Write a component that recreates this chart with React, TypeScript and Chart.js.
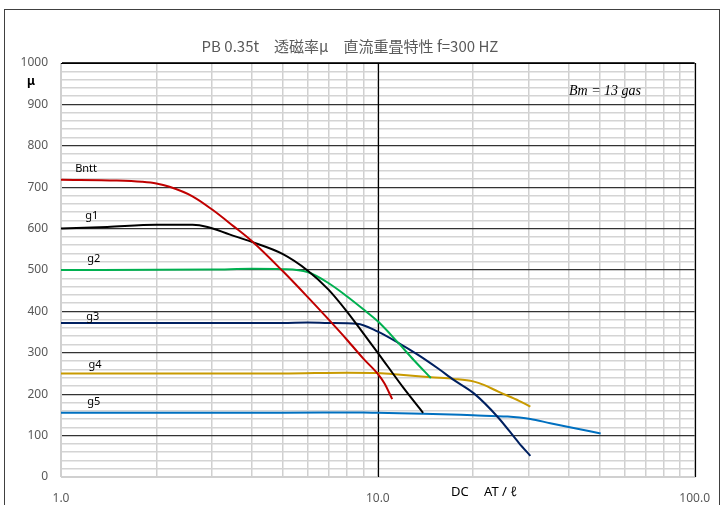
import React, { useEffect, useRef } from "react";
import { Chart, registerables } from "chart.js";

Chart.register(...registerables);

const W = 724;
const H = 505;

const titleText = "PB 0.35t\u3000透磁率μ\u3000直流重畳特性 f=300 HZ";
const xAxisTitleA = "DC";
const xAxisTitleB = "AT / ℓ";
const yAxisTitle = "μ";
const noteText = "Bm = 13 gas";

const xTickValues = [1, 2, 3, 4, 5, 6, 7, 8, 9, 10, 20, 30, 40, 50, 60, 70, 80, 90, 100];
const xLabeled = [1, 10, 100];
const xDarkLines = [10, 100];

const bnttX = [1, 1.5, 1.8, 2, 2.2, 2.6, 3, 3.5, 4, 5, 6, 7, 8, 9, 10, 10.5, 11.1];
const bnttY = [718, 716, 713, 709, 701, 678, 646, 606, 570, 498, 435, 380, 331, 286, 249, 226, 188];

const g1X = [1, 1.4, 2, 2.6, 2.9, 3.4, 4, 5, 6, 7, 8, 9, 10, 12, 13.9];
const g1Y = [600, 604, 609, 609, 604, 586, 568, 539, 499, 452, 399, 347, 300, 217, 155];

const g2X = [1, 3, 4, 5, 6, 7, 8, 9, 10, 11.6, 13, 14.7];
const g2Y = [500, 501, 503, 502, 495, 468, 436, 405, 376, 324, 282, 239];

const g3X = [1, 3, 5, 6, 7, 8.6, 10, 11.6, 13.4, 15.5, 17.4, 20.1, 23.9, 27.9, 30.3];
const g3Y = [372, 372, 372, 373, 372, 370, 351, 324, 295, 262, 234, 202, 145, 82, 51];

const g4X = [1, 5, 8, 10, 11.8, 14.7, 17.4, 20, 21.7, 24, 27.9, 30.3];
const g4Y = [250, 250, 252, 251, 247, 241, 237, 231, 222, 206, 184, 170];

const g5X = [1, 5, 9, 10, 13.9, 20, 25.7, 28, 30.3, 35, 40, 50.5];
const g5Y = [155, 155, 156, 155, 153, 149, 146, 143.5, 140, 130, 121, 105];

const seriesNames = ["Bntt", "g1", "g2", "g3", "g4", "g5"];
const seriesColors = ["#C00000", "#000000", "#00B050", "#002060", "#C89A00", "#0070C0"];
const seriesX = [bnttX, g1X, g2X, g3X, g4X, g5X];
const seriesY = [bnttY, g1Y, g2Y, g3Y, g4Y, g5Y];
// label anchor values (data units)
const labelX = [1.2, 1.25, 1.27, 1.26, 1.28, 1.27];
const labelY = [745, 630, 526, 388, 270, 182];

export default function App() {
  const ref = useRef<HTMLCanvasElement>(null);
  useEffect(() => {
    if (!ref.current) return;
    const linesPlugin = {
      id: "darkLines",
      beforeDatasetsDraw(chart: any) {
        const ctx = chart.ctx;
        const xs = chart.scales.x;
        const ca = chart.chartArea;
        ctx.save();
        ctx.strokeStyle = "#000";
        ctx.lineWidth = 1.2;
        for (const v of xDarkLines) {
          const px = Math.round(xs.getPixelForValue(v)) + 0.5;
          ctx.beginPath();
          ctx.moveTo(px, ca.top);
          ctx.lineTo(px, ca.bottom);
          ctx.stroke();
        }
        ctx.beginPath();
        ctx.moveTo(ca.left, Math.round(ca.top) + 0.5);
        ctx.lineTo(ca.right, Math.round(ca.top) + 0.5);
        ctx.stroke();
        ctx.restore();
      },
    };
    const textPlugin = {
      id: "texts",
      afterDraw(chart: any) {
        const ctx = chart.ctx;
        const xs = chart.scales.x;
        const ys = chart.scales.y;
        ctx.save();
        ctx.strokeStyle = "#404040";
        ctx.lineWidth = 1;
        ctx.strokeRect(4.5, 9.5, 715, 600);
        ctx.fillStyle = "#595959";
        ctx.font = "15px 'Noto Sans CJK JP', 'Noto Sans'";
        ctx.textAlign = "center";
        ctx.textBaseline = "middle";
        ctx.fillText(titleText, 350, 46);
        ctx.fillStyle = "#000";
        ctx.font = "bold 12px 'Noto Sans'";
        ctx.fillText(yAxisTitle, 31, 82);
        ctx.font = "13px 'Noto Sans'";
        ctx.textAlign = "left";
        ctx.fillText(xAxisTitleA, 451, 492);
        ctx.fillText(xAxisTitleB, 484, 492);
        ctx.font = "italic 14px 'Liberation Serif'";
        ctx.textAlign = "center";
        ctx.fillText(noteText, 605, 91);
        ctx.font = "11px 'Noto Sans'";
        for (let i = 0; i < seriesNames.length; i++) {
          ctx.fillText(seriesNames[i], xs.getPixelForValue(labelX[i]), ys.getPixelForValue(labelY[i]));
        }
        ctx.restore();
      },
    };
    const chart = new Chart(ref.current, {
      type: "line",
      data: {
        datasets: seriesNames.map((n, i) => ({
          label: n,
          data: seriesX[i].map((x, j) => ({ x, y: seriesY[i][j] })),
          borderColor: seriesColors[i],
          backgroundColor: seriesColors[i],
          borderWidth: 2,
          pointRadius: 0,
          cubicInterpolationMode: "monotone" as const,
          fill: false,
        })),
      },
      options: {
        animation: false,
        responsive: false,
        maintainAspectRatio: false,
        layout: { padding: { left: 0, right: 29, top: 63, bottom: 0 } },
        plugins: { legend: { display: false }, title: { display: false }, tooltip: { enabled: false } },
        scales: {
          x: {
            type: "logarithmic",
            min: 1,
            max: 100,
            afterFit: (s: any) => { s.height = 28; },
            afterBuildTicks: (s: any) => { s.ticks = xTickValues.map((v) => ({ value: v })); },
            border: { color: "#d0d0d0", width: 1 },
            grid: { drawTicks: false, color: "#d0d0d0", lineWidth: 1.5 },
            ticks: {
              autoSkip: false,
              maxRotation: 0,
              padding: 14,
              color: "#595959",
              font: { family: "'Noto Sans'", size: 12 },
              callback: (v: any) => (xLabeled.includes(Number(v)) ? Number(v).toFixed(1) : ""),
            },
          },
          y: {
            type: "linear",
            min: 0,
            max: 1000,
            afterFit: (s: any) => { s.width = 61; },
            border: { color: "#d0d0d0", width: 1 },
            grid: {
              drawTicks: false,
              color: (c: any) => {
                const v = c.tick ? c.tick.value : 0;
                if (v === 0) return "#d0d0d0";
                return v % 100 === 0 ? "#333" : "#d4d4d4";
              },
              lineWidth: (c: any) => {
                const v = c.tick ? c.tick.value : 0;
                return v % 100 === 0 ? 1.3 : 1.5;
              },
            },
            ticks: {
              stepSize: 20,
              autoSkip: false,
              padding: 13,
              color: "#595959",
              font: { family: "'Noto Sans'", size: 12 },
              callback: (v: any) => (Number(v) % 100 === 0 ? String(v) : ""),
            },
          },
        },
      },
      plugins: [linesPlugin, textPlugin],
    });
    return () => chart.destroy();
  }, []);
  return (
    <div style={{ position: "fixed", left: 0, top: 0, width: W, height: H, background: "#fff" }}>
      <canvas ref={ref} width={W} height={H} style={{ width: W, height: H, display: "block" }} />
    </div>
  );
}
